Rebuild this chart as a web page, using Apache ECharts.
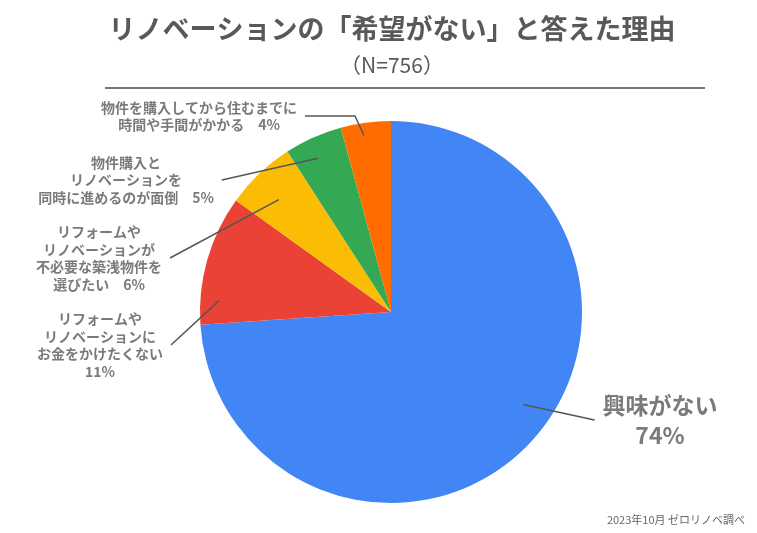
<!DOCTYPE html>
<html>
<head>
<meta charset="utf-8">
<script src="https://cdn.jsdelivr.net/npm/echarts@6/dist/echarts.min.js"></script>
<style>
html,body{margin:0;padding:0;background:#fff}
#main{width:757px;height:533px}
</style>
</head>
<body>
<div id="main"></div>
<script>
// 回答の内訳（N=756）
const categories = [
  '興味がない',
  'リフォームや\nリノベーションに\nお金をかけたくない',
  'リフォームや\nリノベーションが\n不必要な築浅物件を\n選びたい',
  '物件購入と\nリノベーションを\n同時に進めるのが面倒',
  '物件を購入してから住むまでに\n時間や手間がかかる'
]
const counts = [559, 83, 45, 37, 32]
const pctSep = ['\n', '\n', '　', '　', '　']
const colors = ['#4285F4', '#EA4335', '#FBBC04', '#34A853', '#FF6D01']

// ラベルの配置（レイアウト用）
const labelPos = [[660, 420], [100, 345], [99, 258], [126, 180], [199, 116]]
const anchorR = [0.84, 0.9, 0.83, 0.89, 0.93]
const anchorNudge = [-8, -12, -1, -1, -1]   // 度
const labelLen2 = [0, 0, 0, 0, 50]

const total = counts.reduce((a, b) => a + b, 0)
const FONT = '"Noto Sans CJK JP", "Noto Sans", sans-serif'
const TEXT = '#595959'

let cum = 0
const anchors = counts.map((v, i) => {
  let mid = cum + v / 2 + anchorNudge[i] / 360 * total
  cum += v
  return {
    value: [anchorR[i], mid],
    labelLine: { length2: labelLen2[i] },
    label: i === 0 ? { fontSize: 23, lineHeight: 30 } : {}
  }
})

let myChart = echarts.init(document.getElementById('main'))
let options = {
  backgroundColor: '#fff',
  title: {
    text: 'リノベーションの「希望がない」と答えた理由',
    subtext: '（N=756）',
    left: 392,
    textAlign: 'center',
    top: 12,
    padding: 0,
    itemGap: 6,
    textStyle: { fontFamily: FONT, fontSize: 27, fontWeight: 'bold', color: TEXT, lineHeight: 34 },
    subtextStyle: { fontFamily: FONT, fontSize: 21, color: TEXT, lineHeight: 26 }
  },
  polar: { center: [391, 312], radius: 191 },
  angleAxis: { type: 'value', min: 0, max: total, startAngle: 90, clockwise: true, show: false },
  radiusAxis: { type: 'value', min: 0, max: 1, show: false },
  graphic: [
    { type: 'line', shape: { x1: 105, y1: 88, x2: 705, y2: 88 }, style: { stroke: '#777', lineWidth: 2 } },
    { type: 'text', right: 12, top: 514, style: { text: '2023年10月 ゼロリノベ調べ', fontFamily: FONT, fontSize: 11, fill: '#666' } }
  ],
  series: [
    {
      type: 'pie',
      center: [391, 312],
      radius: 191,
      startAngle: 90,
      clockwise: true,
      silent: true,
      animation: false,
      label: { show: false },
      labelLine: { show: false },
      data: counts.map((v, i) => ({ value: v, name: categories[i], itemStyle: { color: colors[i] } }))
    },
    {
      type: 'scatter',
      coordinateSystem: 'polar',
      z: 5,
      silent: true,
      animation: false,
      symbolSize: 2,
      itemStyle: { color: 'rgba(0,0,0,0)' },
      data: anchors,
      label: {
        show: true,
        fontFamily: FONT,
        fontSize: 14,
        fontWeight: 'bold',
        color: TEXT,
        lineHeight: 17.5,
        padding: [0, 8],
        formatter: p => categories[p.dataIndex] + pctSep[p.dataIndex] + Math.round(counts[p.dataIndex] / total * 100) + '%'
      },
      labelLine: {
        show: true,
        showAbove: true,
        lineStyle: { color: '#555', width: 1.5 }
      },
      labelLayout: p => {
        let pos = labelPos[p.dataIndex]
        return { x: pos[0], y: pos[1], align: 'center', verticalAlign: 'middle' }
      }
    }
  ]
}
myChart.setOption(options)
</script>
</body>
</html>
